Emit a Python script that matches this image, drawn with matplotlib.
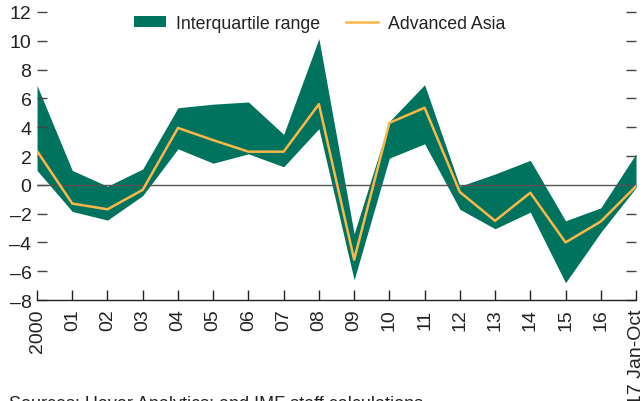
import matplotlib.pyplot as plt
import numpy as np

plt.rcParams['font.family'] = ['Liberation Sans', 'DejaVu Sans']

years = ['2000', '01', '02', '03', '04', '05', '06', '07', '08', '09',
         '10', '11', '12', '13', '14', '15', '16', '17 Jan-Oct']
iqr_high = [6.9, 1.0, -0.1, 1.1, 5.35, 5.6, 5.75, 3.5, 10.15, -3.4,
            4.4, 6.95, -0.1, 0.75, 1.7, -2.5, -1.6, 2.15]
iqr_low = [1.0, -1.85, -2.45, -0.75, 2.5, 1.5, 2.15, 1.25, 3.9, -6.6,
           1.85, 2.85, -1.7, -3.05, -1.9, -6.8, -3.3, -0.2]
adv_asia = [2.35, -1.3, -1.7, -0.35, 3.95, 3.1, 2.3, 2.3, 5.6, -5.2,
            4.3, 5.35, -0.5, -2.5, -0.55, -4.0, -2.55, -0.1]

green = '#00735f'
yellow = '#fbb848'

fig = plt.figure(figsize=(6.44, 4.02), dpi=100)
ax = fig.add_axes([0.0575, 0.2512, 0.9301, 0.7165])

x = np.arange(len(years))
ax.fill_between(x, iqr_low, iqr_high, color=green, linewidth=0, label='Interquartile range')
ax.axhline(0, color='#555555', linewidth=1.0, zorder=3)
ax.plot(x, adv_asia, color=yellow, linewidth=1.8, label='Advanced Asia', zorder=4)

ax.set_xlim(0, len(years) - 1)
ax.set_ylim(-8, 12)
ax.set_yticks(np.arange(-8, 13, 2))
ax.set_yticklabels([str(v).replace('-', '\u2013') for v in range(-8, 13, 2)])
ax.set_xticks(x)
ax.set_xticklabels(years, rotation=90, va='top', ha='center')

for s in ['top', 'left', 'right']:
    ax.spines[s].set_visible(False)
ax.spines['bottom'].set_color('#222222')
ax.spines['bottom'].set_linewidth(1.0)

ax.tick_params(axis='y', direction='in', length=7, width=1, color='#444444',
               labelsize=14, labelcolor='#222222', right=True, pad=4)
ax.tick_params(axis='x', direction='in', length=7, width=1, color='#222222',
               labelsize=14, labelcolor='#222222', pad=6)

ax.legend(loc='upper left', bbox_to_anchor=(0.135, 1.045), ncol=2, frameon=False,
          fontsize=12.8, handlelength=1.8, handleheight=0.6, columnspacing=1.5,
          handletextpad=0.55, labelcolor='#222222')

fig.text(0.014, -0.027, 'Sources: Haver Analytics; and IMF staff calculations.',
         fontsize=13, color='#222222', va='bottom')

fig.savefig('out.png', dpi=100)
